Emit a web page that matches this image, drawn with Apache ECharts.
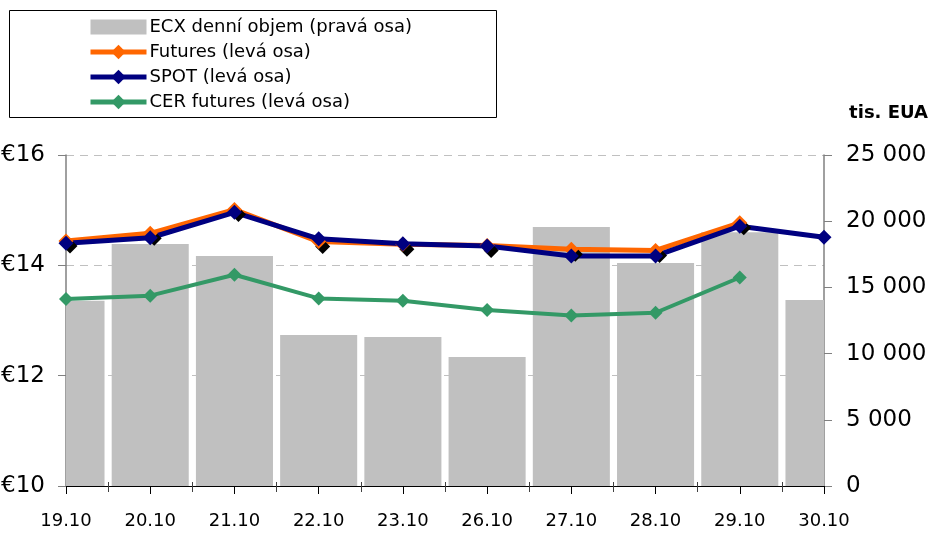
<!DOCTYPE html>
<html>
<head>
<meta charset="utf-8">
<script src="https://cdn.jsdelivr.net/npm/echarts@6/dist/echarts.min.js"></script>
<style>
html,body{margin:0;padding:0;background:#fff;}
#c{width:929px;height:542px;}
</style>
</head>
<body>
<div id="c"></div>
<script>
const categories = ['19.10','20.10','21.10','22.10','23.10','26.10','27.10','28.10','29.10','30.10'];
const volume  = [14000, 18280, 17370, 11400, 11250, 9740, 19560, 16840, 19160, 14050];
const futures = [14.44, 14.58, 15.01, 14.43, 14.38, 14.36, 14.29, 14.27, 14.77, null];
const spot    = [14.40, 14.50, 14.96, 14.48, 14.39, 14.35, 14.17, 14.17, 14.71, 14.51];
const cer     = [13.39, 13.45, 13.83, 13.40, 13.36, 13.19, 13.09, 13.14, 13.78, null];
const midTicks = [0.5, 1.5, 2.5, 3.5, 4.5, 5.5, 6.5, 7.5, 8.5];
const names = ['ECX denní objem (pravá osa)', 'Futures (levá osa)', 'SPOT (levá osa)', 'CER futures (levá osa)'];

const FONT = "'DejaVu Sans', Verdana, sans-serif";
const BAR_RATIO = 0.915;
const chart = echarts.init(document.getElementById('c'), null, {renderer:'canvas'});

function fmtThousands(v){
  const s = String(Math.round(v));
  return s.replace(/\B(?=(\d{3})+(?!\d))/g, ' ');
}

function renderBar(params, api) {
  const idx = api.value(0);
  const top = api.coord([idx, api.value(1)]);
  const base = api.coord([idx, 0]);
  const w = api.size([1, 0])[0] * BAR_RATIO;
  const cs = params.coordSys;
  const rect = echarts.graphic.clipRectByRect(
    {x: top[0] - w / 2, y: top[1], width: w, height: base[1] - top[1]},
    {x: cs.x, y: cs.y, width: cs.width, height: cs.height}
  );
  if (!rect) return null;
  return {type: 'rect', shape: rect, style: {fill: '#c0c0c0'}};
}

chart.setOption({
  animation: false,
  backgroundColor: '#fff',
  textStyle: {fontFamily: FONT, color: '#000'},
  grid: {left: 66, right: 105, top: 155, bottom: 56, containLabel: false, outerBoundsMode: 'none'},
  graphic: [
    {type: 'rect', shape: {x: 9.5, y: 10.5, width: 487, height: 107},
     style: {fill: 'none', stroke: '#000', lineWidth: 1}, z: 0},
    {type: 'text', right: 1, top: 104,
     style: {text: 'tis. EUA', fontFamily: FONT, fontWeight: 'bold', fontSize: 18, fill: '#000'}}
  ],
  legend: {
    orient: 'vertical', left: 83, top: 13,
    itemWidth: 56, itemHeight: 18, itemGap: 7,
    textStyle: {fontFamily: FONT, fontSize: 18, color: '#000', padding: [0, 0, 0, -2]},
    lineStyle: {width: 5},
    data: [
      {name: names[0], icon: 'path://M0,0M56,18M0,1.5L56,1.5L56,16.5L0,16.5Z'},
      {name: names[1]},
      {name: names[2]},
      {name: names[3]}
    ]
  },
  xAxis: [
    {
      type: 'category', data: categories, boundaryGap: false,
      axisLine: {lineStyle: {color: '#000', width: 1}},
      axisTick: {show: true, length: 8, lineStyle: {color: '#000'}},
      axisLabel: {fontFamily: FONT, fontSize: 18, color: '#000', margin: 26},
      splitLine: {show: false}
    },
    {
      type: 'value', min: 0, max: 9, position: 'bottom', offset: -4,
      axisLine: {show: false},
      axisTick: {show: true, length: 10, customValues: midTicks, lineStyle: {color: '#404040'}},
      axisLabel: {show: false},
      splitLine: {show: false}
    }
  ],
  yAxis: [
    {
      type: 'value', min: 10, max: 16, interval: 2, position: 'left',
      axisLine: {show: true, lineStyle: {color: '#808080', width: 1.5}},
      axisTick: {show: true, length: 8, lineStyle: {color: '#808080'}},
      axisLabel: {fontFamily: FONT, fontSize: 23, color: '#000', margin: 21,
                  formatter: v => '€' + v},
      splitLine: {show: true, lineStyle: {color: '#c0c0c0', type: [8, 6], width: 1}}
    },
    {
      type: 'value', min: 0, max: 25000, interval: 5000, position: 'right',
      axisLine: {show: true, lineStyle: {color: '#808080', width: 1.5}},
      axisTick: {show: true, length: 8, lineStyle: {color: '#808080'}},
      axisLabel: {fontFamily: FONT, fontSize: 23, color: '#000', margin: 22,
                  formatter: v => fmtThousands(v)},
      splitLine: {show: false}
    }
  ],
  series: [
    {
      name: names[0], type: 'custom', xAxisIndex: 0, yAxisIndex: 1,
      data: volume.map((v, i) => [i, v]),
      encode: {x: 0, y: 1},
      renderItem: renderBar,
      itemStyle: {color: '#c0c0c0'}
    },
    {
      name: names[3], type: 'line', yAxisIndex: 0, data: cer,
      symbol: 'diamond', symbolSize: 14,
      lineStyle: {color: '#339966', width: 4},
      itemStyle: {color: '#339966'}
    },
    {
      name: names[1], type: 'line', yAxisIndex: 0, data: futures,
      symbol: 'diamond', symbolSize: 15,
      lineStyle: {color: '#FF6600', width: 5},
      itemStyle: {color: '#FF6600', shadowColor: '#000', shadowOffsetX: 4, shadowOffsetY: 5, shadowBlur: 0}
    },
    {
      name: names[2], type: 'line', yAxisIndex: 0, data: spot,
      symbol: 'diamond', symbolSize: 15,
      lineStyle: {color: '#000080', width: 5},
      itemStyle: {color: '#000080'}
    }
  ]
});
</script>
</body>
</html>
